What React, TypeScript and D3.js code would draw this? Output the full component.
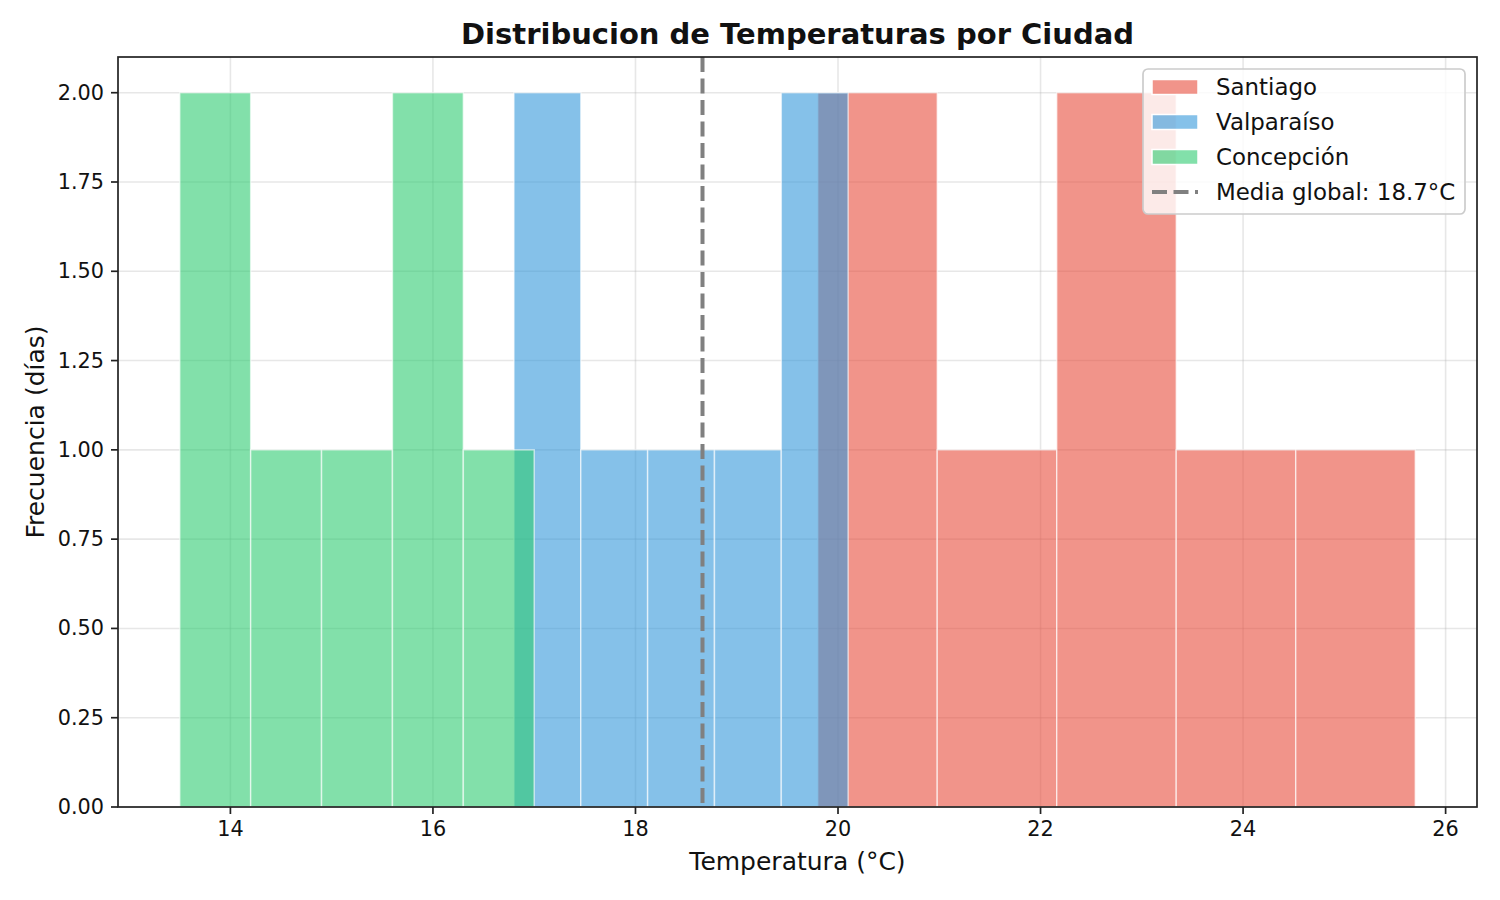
import * as React from "react";
import * as d3 from "d3";

// temperaturas diarias (°C) por ciudad
const santiago = [19.8, 20.5, 21.3, 22.5, 23.0, 23.9, 25.7];
const valparaiso = [16.8, 17.2, 17.8, 18.5, 19.0, 19.8, 20.1];
const concepcion = [13.5, 13.9, 14.5, 15.2, 15.8, 16.1, 17.0];

const cities = ["Santiago", "Valparaíso", "Concepción"];
const cityColors = ["#e74c3c", "#3498db", "#2ecc71"];
const xTicks = [14, 16, 18, 20, 22, 24, 26];
const yTicks = [0, 0.25, 0.5, 0.75, 1.0, 1.25, 1.5, 1.75, 2.0];

const W = 1500;
const H = 900;
const M = { left: 118, right: 1477, top: 57, bottom: 807 };
const FONT = "DejaVu Sans, sans-serif";

function histogram(values: number[], nBins = 5) {
  const [lo, hi] = d3.extent(values) as [number, number];
  const step = (hi - lo) / nBins;
  const thr = d3.range(1, nBins).map((i) => lo + i * step);
  return d3.bin().domain([lo, hi]).thresholds(thr)(values);
}

export default function App() {
  const series = [santiago, valparaiso, concepcion];
  const all = series.flat();
  const mean = d3.mean(all) as number;

  const [lo, hi] = d3.extent(all) as [number, number];
  const pad = (hi - lo) * 0.05;
  const x = d3.scaleLinear([lo - pad, hi + pad], [M.left, M.right]);
  const binsPerCity = series.map((s) => histogram(s));
  const maxCount = d3.max(binsPerCity.flat(), (b) => b.length) as number;
  const y = d3.scaleLinear([0, maxCount * 1.05], [M.bottom, M.top]);

  const legendItems = cities.map((c, i) => ({ label: c, color: cityColors[i] }));

  return (
    <svg
      width={W}
      height={H}
      style={{ position: "absolute", left: 0, top: 0, background: "white" }}
      fontFamily={FONT}
    >
      {/* grid */}
      <g stroke="#b0b0b0" strokeOpacity={0.3} strokeWidth={1.6}>
        {xTicks.map((t) => (
          <line key={"gx" + t} x1={x(t)} x2={x(t)} y1={M.top} y2={M.bottom} />
        ))}
        {yTicks.map((t) => (
          <line key={"gy" + t} x1={M.left} x2={M.right} y1={y(t)} y2={y(t)} />
        ))}
      </g>

      {/* histogramas */}
      {binsPerCity.map((bins, ci) => (
        <g key={cities[ci]}>
          {bins.map((b, bi) => (
            <rect
              key={bi}
              x={x(b.x0 as number)}
              y={y(b.length)}
              width={x(b.x1 as number) - x(b.x0 as number)}
              height={y(0) - y(b.length)}
              fill={cityColors[ci]}
              fillOpacity={0.6}
              stroke="white"
              strokeOpacity={0.6}
              strokeWidth={1.5}
            />
          ))}
        </g>
      ))}

      {/* media global */}
      <line
        x1={x(mean)}
        x2={x(mean)}
        y1={M.top}
        y2={M.bottom}
        stroke="#808080"
        strokeWidth={4}
        strokeDasharray="15,6.5"
      />

      {/* ejes */}
      <rect
        x={M.left}
        y={M.top}
        width={M.right - M.left}
        height={M.bottom - M.top}
        fill="none"
        stroke="#222"
        strokeWidth={1.7}
      />
      <g fontSize={20.8} fill="#111">
        {xTicks.map((t) => (
          <g key={"tx" + t}>
            <line x1={x(t)} x2={x(t)} y1={M.bottom} y2={M.bottom + 7} stroke="#222" strokeWidth={1.7} />
            <text x={x(t)} y={M.bottom + 14} textAnchor="middle" dominantBaseline="hanging">
              {t}
            </text>
          </g>
        ))}
        {yTicks.map((t) => (
          <g key={"ty" + t}>
            <line x1={M.left - 7} x2={M.left} y1={y(t)} y2={y(t)} stroke="#222" strokeWidth={1.7} />
            <text x={M.left - 14} y={y(t)} textAnchor="end" dominantBaseline="central">
              {d3.format(".2f")(t)}
            </text>
          </g>
        ))}
      </g>

      <text x={(M.left + M.right) / 2} y={870} textAnchor="middle" fontSize={25} fill="#111">
        Temperatura (°C)
      </text>
      <text
        transform={`translate(44, ${(M.top + M.bottom) / 2}) rotate(-90)`}
        textAnchor="middle"
        fontSize={25}
        fill="#111"
      >
        Frecuencia (días)
      </text>
      <text
        x={(M.left + M.right) / 2}
        y={44}
        textAnchor="middle"
        fontSize={29}
        fontWeight="bold"
        fill="#111"
      >
        Distribucion de Temperaturas por Ciudad
      </text>

      {/* leyenda */}
      <g>
        <rect
          x={1143}
          y={69}
          width={322}
          height={145}
          rx={5}
          fill="white"
          fillOpacity={0.8}
          stroke="#cccccc"
          strokeWidth={1.7}
        />
        {legendItems.map((d, i) => (
          <g key={d.label} transform={`translate(1152, ${87 + i * 35})`}>
            <rect
              x={0}
              y={-7.5}
              width={46}
              height={15}
              fill={d.color}
              fillOpacity={0.6}
              stroke="white"
              strokeWidth={1.5}
            />
            <text x={64} y={0} dominantBaseline="central" fontSize={22.9} fill="#111">
              {d.label}
            </text>
          </g>
        ))}
        <g transform={`translate(1152, ${87 + 3 * 35})`}>
          <line x1={0} x2={46} y1={0} y2={0} stroke="#808080" strokeWidth={4} strokeDasharray="15,6.5" />
          <text x={64} y={0} dominantBaseline="central" fontSize={22.9} fill="#111">
            {`Media global: ${mean.toFixed(1)}°C`}
          </text>
        </g>
      </g>
    </svg>
  );
}
